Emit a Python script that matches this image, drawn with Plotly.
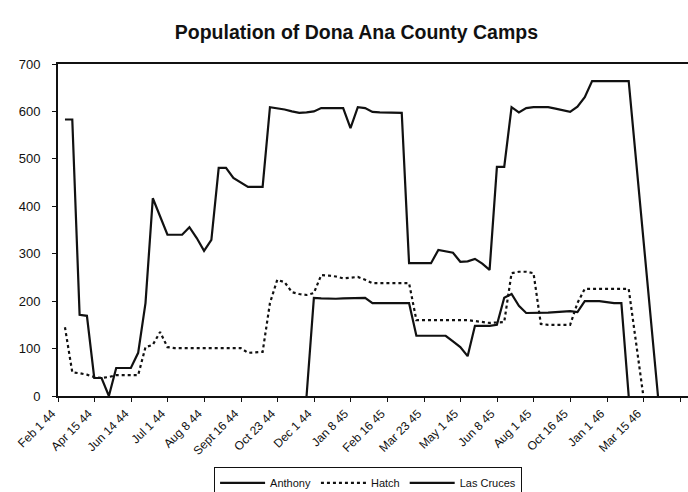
import plotly.graph_objects as go

# Category index of each report (labels shown every 5th report)
n_points = 82
report_index = list(range(n_points))

tick_labels = ["Feb 1 44", "Apr 15 44", "Jun 14 44", "Jul 1 44", "Aug 8 44",
               "Sept 16 44", "Oct 23 44", "Dec 1 44", "Jan 8 45", "Feb 16 45",
               "Mar 23 45", "May 1 45", "Jun 8 45", "Aug 1 45", "Oct 16 45",
               "Jan 1 46", "Mar 15 46", ""]

N = None
las_cruces = [583, 583, 171, 169, 38, 38, 0, 59, 59, 59,
              91, 196, 417, 380, 340, 340, 340, 356, 333, 306,
              329, 481, 481, 460, 450, 441, 441, 441, 609, 607,
              604, 600, 597, 598, 600, 607, 607, 607, 607, 565,
              609, 607, 599, 598, 598, 597, 597, 280, 280, 280,
              280, 308, 305, 302, 283, 284, 289, 279, 266, 483,
              483, 609, 598, 607, 609, 609, 609, 606, 603, 599,
              610, 630, 664, 664, 664, 664, 664, 664, N, N,
              N, 0]

anthony = [N] * 33 + [0, 207, 206, 205, 205, 206, 206, 207,
                      207, 196, 196, 196, 196, 196, 196, 127, 127, 127,
                      127, 127, 115, 103, 84, 148, 148, 148, 150, 207,
                      215, 190, 175, 175, 175, 176, 177, 178, 179, 177,
                      200, 200, 200, 198, 196, 196, 0, N, N, N,
                      N, N]

hatch = [145, 50, 48, 45, 40, 38, 40, 44, 44, 44,
         44, 103, 108, 135, 103, 101, 101, 101, 101, 101,
         101, 101, 101, 101, 101, 91, 92, 93, 196, 245,
         240, 219, 215, 213, 217, 255, 254, 252, 248, 249,
         251, 245, 238, 238, 238, 238, 238, 238, 160, 160,
         160, 160, 160, 160, 160, 160, 158, 156, 154, 155,
         156, 259, 262, 262, 259, 152, 150, 150, 150, 150,
         196, 226, 226, 226, 226, 226, 226, 226, N, 0,
         N, N]

font_family = "Liberation Sans, Arial, sans-serif"
ink = "#111111"

fig = go.Figure()
fig.add_trace(go.Scatter(x=report_index, y=anthony, name="Anthony", mode="lines",
                         line=dict(color=ink, width=2.2), connectgaps=True))
fig.add_trace(go.Scatter(x=report_index, y=hatch, name="Hatch", mode="lines",
                         line=dict(color=ink, width=2.2, dash="3px,3px"),
                         connectgaps=True))
fig.add_trace(go.Scatter(x=report_index, y=las_cruces, name="Las Cruces", mode="lines",
                         line=dict(color=ink, width=2.2), connectgaps=True))

tickvals = [-0.95 + 5 * k for k in range(len(tick_labels))]

fig.update_layout(
    width=688, height=492,
    margin=dict(l=58, r=0, t=64, b=96),
    paper_bgcolor="white", plot_bgcolor="white",
    font=dict(family=font_family, size=12, color=ink),
    title=dict(text="<b>Population of Dona Ana County Camps</b>",
               x=0.518, xanchor="center", y=0.935, yanchor="middle",
               font=dict(size=19.5, family=font_family, color=ink)),
    showlegend=True,
    legend=dict(orientation="h", x=0.535, xanchor="center", xref="container",
                y=0.05, yanchor="top", yref="container",
                bordercolor=ink, borderwidth=1, bgcolor="white",
                font=dict(size=11, family=font_family, color=ink),
                traceorder="normal", itemwidth=45),
    xaxis=dict(range=[-0.95, 85.1], tickmode="array", tickvals=tickvals,
               ticktext=tick_labels, tickangle=-45, ticks="outside", ticklen=4,
               tickcolor=ink, showline=True, linecolor=ink, linewidth=2,
               mirror=True, showgrid=False, zeroline=False, automargin=False,
               ticklabelshift=-6,
               tickfont=dict(size=12, family=font_family, color=ink)),
    yaxis=dict(range=[0, 700], tickmode="array", tickvals=list(range(0, 701, 100)),
               ticks="outside", ticklen=4, tickcolor=ink, showline=True,
               linecolor=ink, linewidth=2, showgrid=False, zeroline=False,
               automargin=False, ticklabelstandoff=9,
               tickfont=dict(size=13, family=font_family, color=ink)),
)

fig.write_html("out.html",
               config={"displayModeBar": False},
               post_script="document.body.style.margin='0';document.body.style.overflow='hidden';")
